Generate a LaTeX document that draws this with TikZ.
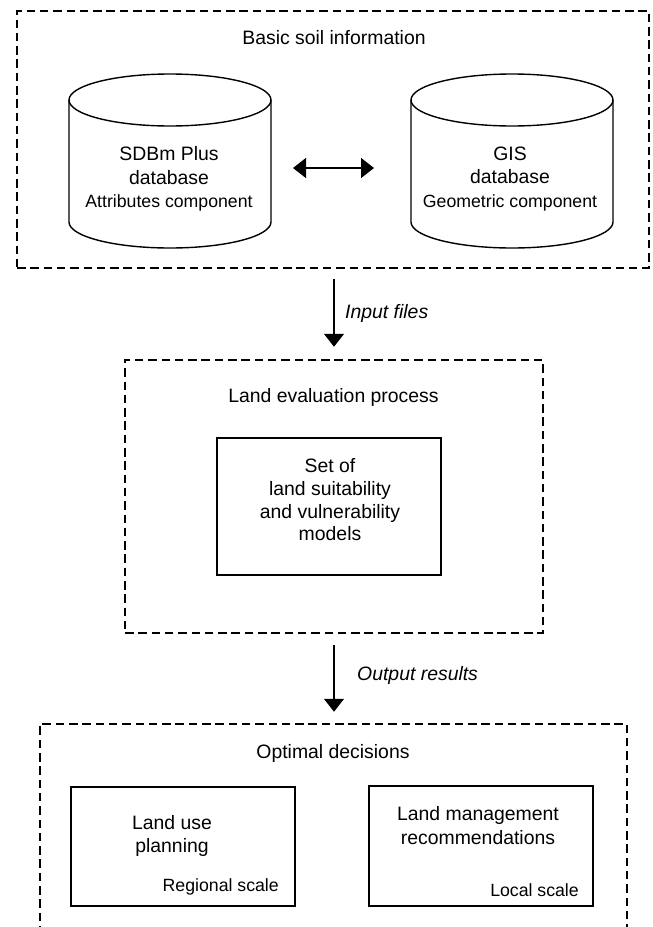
\documentclass[tikz,border=0pt]{standalone}
\usepackage{fontspec}
\setmainfont{Liberation Sans}
\usetikzlibrary{arrows.meta}
\begin{document}
\begin{tikzpicture}[x=1pt,y=-1pt,
  dbox/.style={draw, line width=2.5pt, dash pattern=on 8.5pt off 4.8pt, rectangle, inner sep=0pt},
  sbox/.style={draw, line width=1.6pt, rectangle, inner sep=0pt},
  cylline/.style={line width=1.4pt},
  big/.style={font=\fontsize{19.4}{23.5}\selectfont, align=center, inner sep=0pt},
  small/.style={font=\fontsize{17.7}{21}\selectfont, inner sep=0pt},
  arr/.style={line width=1.4pt, -{Triangle[length=13pt,width=20pt]}},
  darr/.style={line width=1.4pt, {Triangle[length=13pt,width=20pt]}-{Triangle[length=13pt,width=20pt]}}]
\useasboundingbox (0,0) rectangle (653,927);

% top dashed box
\node[dbox, minimum width=632, minimum height=257] (topbox) at (333,139.5) {};
\node[big] (toptitle) at (334,38) {Basic soil information};

% left cylinder
\draw[cylline] (170,100) ellipse [x radius=101, y radius=26];
\draw[cylline] (69,100) -- (69,222) arc[start angle=180, end angle=0, x radius=101, y radius=26] -- (271,100);
\node[minimum width=202, minimum height=174, inner sep=0pt] (sdbm) at (170,161) {};
\node[big] (sdbmtxt) at (169,179) {SDBm Plus\\database\\{\fontsize{17.7}{24}\selectfont Attributes component}};

% right cylinder
\draw[cylline] (512,100) ellipse [x radius=101, y radius=26];
\draw[cylline] (411,100) -- (411,222) arc[start angle=180, end angle=0, x radius=101, y radius=26] -- (613,100);
\node[minimum width=202, minimum height=174, inner sep=0pt] (gis) at (512,161) {};
\node[big] (gistxt) at (510,179) {GIS\\database\\{\fontsize{17.7}{24}\selectfont Geometric component}};

% double arrow between databases
\coordinate (dl) at (293,168);
\coordinate (dr) at (374,168);
\draw[darr] (dl) -- (dr);

% middle dashed box
\node[dbox, minimum width=418, minimum height=273] (midbox) at (334,496.5) {};
\node[big] (midtitle) at (333.5,397) {Land evaluation process};
\node[sbox, minimum width=224, minimum height=137] (models) at (329,506.5) {};
\node[big, font=\fontsize{19.4}{22.7}\selectfont] (modelstxt) at (330,500) {Set of\\land suitability\\and vulnerability\\models};

% input arrow
\draw[arr, shorten <=10pt, shorten >=12pt] (midbox.north |- topbox.south) -- (midbox.north);
\node[big, anchor=west, font=\fontsize{19.4}{23.5}\selectfont\itshape] (inlbl) at (345,313) {Input files};

% bottom dashed box (open at the bottom)
\node[dbox, minimum width=587, minimum height=260] (botbox) at (333.5,854) {};
\node[big] (bottitle) at (333,753) {Optimal decisions};

% output arrow
\draw[arr, shorten <=11pt, shorten >=11pt] (midbox.south) -- (midbox.south |- botbox.north);
\node[big, anchor=west, font=\fontsize{19.4}{23.5}\selectfont\itshape] (outlbl) at (357,675) {Output results};

% bottom left box
\node[sbox, minimum width=224, minimum height=119] (landuse) at (183,846.5) {};
\node[big, font=\fontsize{19.4}{23}\selectfont] (landusetxt) at (172,835.5) {Land use\\planning};
\node[small, anchor=east] (regional) at (279,887) {Regional scale};

% bottom right box
\node[sbox, minimum width=224, minimum height=120] (landman) at (481,846) {};
\node[big, font=\fontsize{19.4}{24}\selectfont] (landmantxt) at (478,826) {Land management\\recommendations};
\node[small, anchor=east] (local) at (579,890) {Local scale};
\end{tikzpicture}
\end{document}
